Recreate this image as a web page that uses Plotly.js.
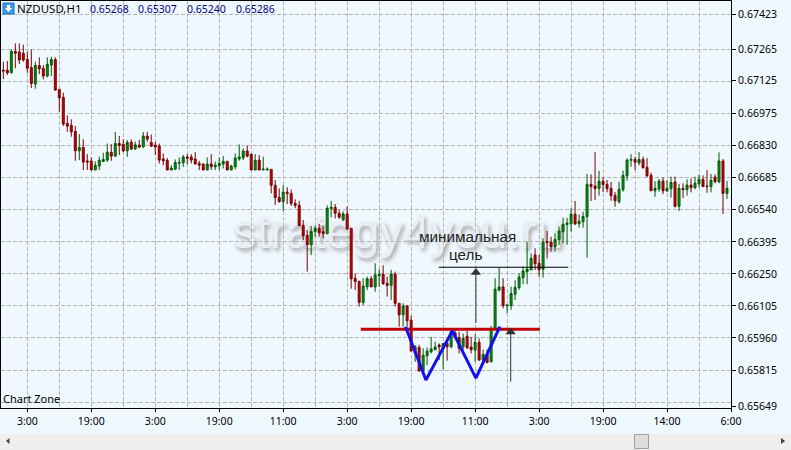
<!DOCTYPE html>
<html><head><meta charset="utf-8">
<script src="https://cdn.plot.ly/plotly-3.0.1.min.js"></script>
<style>html,body{margin:0;padding:0;background:#F0F8FF;overflow:hidden}</style>
</head><body><div id="chart" style="width:791px;height:450px"></div>
<script>
// prices in 1e-5 units (points)
const openPts = [
67172,67172,67160,67257,67254,67248,67220,67184,67109,67193,
67180,67145,67195,67220,67085,67049,66931,66922,66895,66807,
66822,66761,66761,66720,66738,66759,66765,66800,66783,66840,
66836,66807,66846,66816,66833,66825,66874,66845,66833,66828,
66770,66764,66720,66724,66751,66753,66779,66779,66770,66750,
66747,66720,66747,66735,66739,66747,66759,66720,66735,66770,
66776,66806,66792,66720,66765,66720,66720,66723,66651,66596,
66577,66620,66614,66569,66560,66470,66424,66382,66442,66456,
66441,66432,66545,66551,66524,66494,66521,66456,66230,66216,
66120,66192,66228,66191,66242,66248,66207,66198,66249,66117,
66065,66105,66040,65890,65917,65811,65879,65897,65907,65928,
65910,65935,65920,65983,65962,65920,65968,65919,65905,65940,
65861,65885,65852,66000,66177,66191,66105,66106,66158,66188,
66233,66260,66268,66336,66298,66271,66396,66394,66373,66406,
66441,66473,66477,66520,66477,66486,66509,66655,66648,66636,
66669,66655,66637,66605,66577,66631,66694,66764,66768,66752,
66768,66732,66696,66626,66634,66670,66625,66636,66666,66556,
66637,66631,66652,66640,66658,66678,66648,66645,66688,66667,
66761,66614];
const closePts = [
67168,67160,67257,67249,67218,67218,67181,67112,67193,67178,
67145,67198,67220,67082,67047,66928,66919,66893,66807,66822,
66756,66756,66720,66741,66764,66768,66801,66783,66840,66831,
66807,66845,66815,66834,66824,66874,66860,66828,66824,66765,
66762,66720,66729,66754,66754,66779,66774,66765,66747,66742,
66720,66747,66735,66742,66750,66759,66720,66738,66774,66779,
66806,66783,66720,66764,66720,66724,66724,66651,66596,66577,
66620,66614,66569,66560,66468,66423,66382,66442,66456,66436,
66433,66547,66551,66524,66506,66521,66453,66228,66215,66121,
66195,66228,66192,66245,66248,66206,66198,66249,66117,66065,
66105,66038,65901,65920,65811,65882,65900,65910,65919,65920,
65935,65920,65988,65965,65913,65958,65916,65907,65940,65860,
65885,65849,66003,66181,66191,66106,66109,66161,66189,66236,
66263,66272,66320,66296,66268,66393,66393,66373,66406,66444,
66474,66480,66520,66476,66488,66510,66655,66645,66636,66669,
66654,66636,66604,66581,66633,66696,66765,66768,66755,66768,
66731,66694,66626,66637,66670,66626,66637,66664,66556,66637,
66631,66652,66640,66660,66678,66645,66645,66673,66667,66761,
66614,66637];
const highPts = [
67210,67213,67266,67293,67293,67288,67255,67266,67210,67230,
67195,67230,67233,67230,67085,67070,66967,66949,66919,66883,
66859,66792,66777,66759,66780,66798,66840,66837,66892,66874,
66859,66856,66859,66849,66856,66892,66892,66881,66848,66840,
66795,66774,66742,66768,66777,66788,66792,66792,66801,66762,
66750,66777,66792,66758,66777,66783,66762,66744,66795,66836,
66818,66831,66792,66792,66788,66780,66732,66723,66675,66637,
66652,66642,66632,66587,66581,66494,66449,66467,66467,66476,
66464,66560,66580,66566,66539,66533,66554,66456,66252,66219,
66230,66237,66240,66298,66271,66289,66237,66268,66260,66117,
66117,66109,66061,65928,65928,65913,65917,65965,65943,65935,
65935,65950,65996,65996,65988,65980,65992,65965,65977,65958,
65908,65908,66014,66230,66278,66230,66109,66192,66222,66253,
66283,66396,66343,66366,66336,66411,66444,66418,66434,66464,
66504,66504,66547,66580,66520,66532,66702,66700,66801,66716,
66687,66675,66666,66620,66667,66717,66773,66792,66780,66801,
66780,66774,66708,66670,66679,66687,66675,66690,66690,66657,
66660,66678,66682,66690,66700,66696,66720,66702,66700,66800,
66770,66670];
const lowPts = [
67132,67150,67160,67180,67199,67210,67160,67091,67088,67154,
67130,67139,67145,67079,66984,66919,66893,66871,66762,66765,
66720,66720,66720,66720,66720,66756,66756,66762,66780,66788,
66801,66780,66810,66810,66818,66819,66848,66825,66788,66750,
66741,66720,66720,66720,66720,66735,66747,66750,66747,66720,
66720,66720,66720,66720,66720,66727,66720,66720,66723,66762,
66765,66777,66720,66720,66720,66720,66720,66614,66562,66572,
66534,66566,66557,66547,66467,66403,66260,66335,66418,66418,
66411,66430,66506,66501,66500,66491,66449,66183,66177,66102,
66109,66177,66189,66169,66192,66200,66147,66132,66102,66011,
66011,66011,65898,65852,65807,65799,65837,65890,65905,65860,
65819,65857,65913,65958,65890,65905,65910,65890,65852,65857,
65852,65845,65849,65996,66170,66094,66072,66087,66132,66177,
66203,66203,66268,66268,66237,66233,66320,66351,66351,66381,
66388,66381,66441,66471,66459,66459,66323,66580,66584,66604,
66620,66619,66581,66554,66568,66622,66672,66735,66720,66741,
66726,66687,66626,66599,66622,66611,66622,66595,66550,66534,
66593,66604,66619,66633,66642,66645,66617,66619,66660,66660,
66521,66589];

const xTickBars = [6,22,38,54,70,86,102,118,134,150,166,182];
const xTickLabels = ["3:00","19:00","3:00","19:00","11:00","3:00","19:00","11:00","3:00","19:00","14:00","6:00"];
const xGridBars = [14,30,46,62,78,94,110,126,142,158,174];
const yTickPts = [67423,67265,67125,66975,66830,66685,66540,66395,66250,66105,65960,65815,65649];
const yGridPts = [67423,67265,67120,66975,66830,66685,66540,66395,66250,66105,65960,65815,65667];

const neckX = [89.4,134.2], neckY = [65999,65999];
const targetX = [108.9,141.3], targetY = [66280,66280];
const zigX = [100.6,105.7,112.3,118.2,124.2], zigY = [66011,65770,65992,65778,66011];
const arrowX = [118.2,126.9], arrowTop = [66256,65987], arrowBottom = [66028,65762];

const p = v => v/1e5;
const barX = openPts.map((_,i)=>i);
const GRID = '#B4B4B4', GD = '4px,2px';
const px = x => (x-1)/730, py = y => (408-y)/407;
const FONT = 'Noto Sans, Liberation Sans, sans-serif';

const traces = [
 {type:'candlestick',x:barX,open:openPts.map(p),high:highPts.map(p),low:lowPts.map(p),close:closePts.map(p),
  whiskerwidth:0,showlegend:false,hoverinfo:'skip',
  increasing:{line:{color:'#005A00',width:1},fillcolor:'#0A8F1A'},
  decreasing:{line:{color:'#780000',width:1},fillcolor:'#CC0000'}},
 {type:'scatter',mode:'lines',x:neckX,y:neckY.map(p),line:{color:'#C00000',width:3},showlegend:false,hoverinfo:'skip'},
 {type:'scatter',mode:'lines',x:zigX,y:zigY.map(p),line:{color:'#1010F0',width:3},showlegend:false,hoverinfo:'skip'},
 {type:'scatter',mode:'lines',x:targetX,y:targetY.map(p),line:{color:'#000000',width:1},showlegend:false,hoverinfo:'skip'},
 {type:'scatter',mode:'lines',x:[arrowX[0],arrowX[0]],y:[p(arrowBottom[0]),p(arrowTop[0])],line:{color:'#333333',width:1},showlegend:false,hoverinfo:'skip'},
 {type:'scatter',mode:'lines',x:[arrowX[1],arrowX[1]],y:[p(arrowBottom[1]),p(arrowTop[1])],line:{color:'#333333',width:1},showlegend:false,hoverinfo:'skip'},
 {type:'scatter',mode:'markers',x:arrowX,y:arrowTop.map(p),marker:{symbol:'triangle-up',size:9,color:'#333333'},showlegend:false,hoverinfo:'skip'}
];

const ann = (text,x,y,o={}) => Object.assign({xref:'paper',yref:'paper',x:px(x),y:py(y),text,showarrow:false,xanchor:'left',yanchor:'middle',
   font:{family:FONT,size:11,color:'#000'}},o);
const blue = {family:FONT,size:10.5,color:'#000080'};

const layout = {
 width:791,height:450,paper_bgcolor:'#F0F8FF',plot_bgcolor:'#F0F8FF',
 margin:{l:1,r:60,t:1,b:42,pad:0},showlegend:false,
 xaxis:{type:'linear',range:[-0.58,182],rangeslider:{visible:false},showgrid:true,gridcolor:GRID,griddash:GD,gridwidth:1,
   tickmode:'array',tickvals:xTickBars,ticktext:xTickLabels,ticks:'outside',ticklen:3,tickcolor:'#000',
   tickfont:{family:FONT,size:10.5,color:'#000'},showline:true,linecolor:'#000',linewidth:1,mirror:true,zeroline:false,
   minor:{tickmode:'array',tickvals:xGridBars,showgrid:true,gridcolor:GRID,griddash:GD,gridwidth:1,ticks:''}},
 yaxis:{side:'right',range:[p(65643),p(67485)],showgrid:false,
   tickmode:'array',tickvals:yTickPts.map(p),ticktext:yTickPts.map(v=>p(v).toFixed(5)),ticks:'outside',ticklen:4,tickcolor:'#000',
   tickfont:{family:FONT,size:10.5,color:'#000'},showline:true,linecolor:'#000',linewidth:1,mirror:true,zeroline:false,
   minor:{tickmode:'array',tickvals:yGridPts.map(p),showgrid:true,gridcolor:GRID,griddash:GD,gridwidth:1,ticks:''}},
 shapes:[
  {type:'rect',xref:'paper',yref:'paper',x0:px(0),x1:px(791),y0:py(434),y1:py(450),fillcolor:'#EEEEEE',line:{width:0}},
  {type:'rect',xref:'paper',yref:'paper',x0:px(634.5),x1:px(648.5),y0:py(434.5),y1:py(448.5),fillcolor:'#DDDDDD',line:{color:'#A0A0A0',width:1}},
  {type:'path',xref:'paper',yref:'paper',path:`M ${px(9.5)} ${py(438)} L ${px(6)} ${py(441)} L ${px(9.5)} ${py(444)} Z`,fillcolor:'#404040',line:{width:0}},
  {type:'path',xref:'paper',yref:'paper',path:`M ${px(781)} ${py(438)} L ${px(785)} ${py(441)} L ${px(781)} ${py(444)} Z`,fillcolor:'#404040',line:{width:0}},
  {type:'rect',xref:'paper',yref:'paper',x0:px(3),x1:px(14),y0:py(3),y1:py(14),fillcolor:'#3C9BE8',line:{color:'#1F6FB8',width:1}},
  {type:'path',xref:'paper',yref:'paper',path:`M ${px(7)} ${py(5)} L ${px(10)} ${py(5)} L ${px(10)} ${py(8)} L ${px(12)} ${py(8)} L ${px(8.5)} ${py(12)} L ${px(5)} ${py(8)} L ${px(7)} ${py(8)} Z`,fillcolor:'#FFFFFF',line:{width:0}},
  {type:'rect',xref:'paper',yref:'paper',layer:'below',x0:px(229),x1:px(567),y0:py(204),y1:py(249),line:{width:0},fillcolor:'rgba(0,0,0,0)',
    label:{text:'strategy4you.ru',textposition:'middle center',font:{family:'Liberation Sans',size:48,color:'#E9EFF5',shadow:'2px 3px 4px #A0A0A0'}}}
 ],
 annotations:[
  ann('NZDUSD,H1',14.5,8.5,{font:{family:FONT,size:11.5,color:'#000'}}),
  ann('0.65268',87.5,8.5,{font:blue}),
  ann('0.65307',136,8.5,{font:blue}),
  ann('0.65240',185,8.5,{font:blue}),
  ann('0.65286',234,8.5,{font:blue}),
  ann('Chart Zone',0.5,398.5,{}),
  ann('минимальная',467,236,{xanchor:'center',font:{family:'Liberation Sans',size:15.3,color:'#222'}}),
  ann('цель',466,254,{xanchor:'center',font:{family:'Liberation Sans',size:15.3,color:'#222'}})
 ]
};
Plotly.newPlot('chart',traces,layout,{displayModeBar:false,staticPlot:true});
</script></body></html>
